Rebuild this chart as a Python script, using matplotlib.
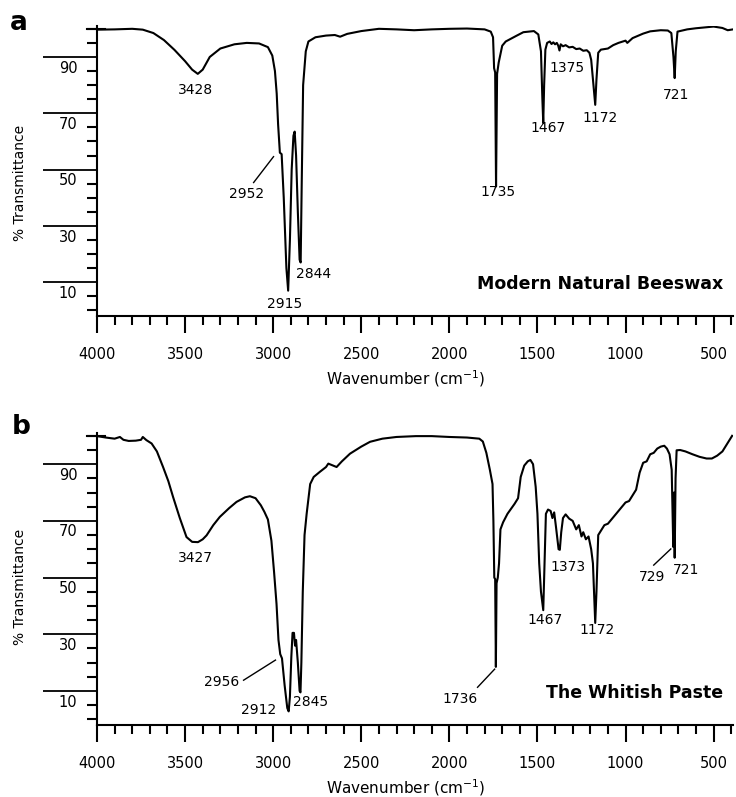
import matplotlib
matplotlib.use("Agg")
import matplotlib.pyplot as plt
from matplotlib.ticker import MultipleLocator, FixedLocator
from matplotlib.transforms import offset_copy

# ---- panel a: modern natural beeswax (wavenumber, % transmittance) ----
wn_a = [4000, 3900, 3800, 3740, 3680, 3620, 3560, 3500, 3460, 3428, 3400, 3360,
        3300, 3220, 3150, 3080, 3030, 3005, 2990, 2980, 2972, 2962, 2952, 2940,
        2925, 2915, 2905, 2895, 2885, 2878, 2870, 2860, 2850, 2844, 2838, 2830,
        2815, 2800, 2760, 2700, 2650, 2620, 2580, 2500, 2400, 2300, 2200, 2100,
        2000, 1900, 1800, 1765, 1752, 1746, 1740, 1735, 1729, 1720, 1700, 1680,
        1650, 1620, 1580, 1520, 1495, 1480, 1472, 1467, 1462, 1455, 1445, 1430,
        1420, 1410, 1400, 1390, 1382, 1375, 1368, 1355, 1340, 1320, 1300, 1280,
        1260, 1240, 1220, 1205, 1195, 1182, 1172, 1165, 1155, 1140, 1100, 1070,
        1040, 1000, 990, 960, 930, 900, 860, 800, 760, 740, 728, 721, 715, 705,
        650, 600, 550, 500, 450, 420, 390]
tr_a = [99.7, 99.8, 100.0, 99.7, 98.5, 96.0, 92.5, 88.5, 85.5, 84.0, 85.5, 90.0,
        93.0, 94.5, 95.0, 94.8, 93.5, 90.5, 85.0, 77.0, 66.0, 56.0, 55.5, 40.0,
        15.0, 7.0, 25.0, 50.0, 62.0, 63.5, 55.0, 35.0, 18.0, 17.0, 45.0, 80.0,
        92.0, 95.5, 97.0, 97.6, 97.8, 97.2, 98.2, 99.2, 100.0, 99.8, 99.5, 99.8,
        100.0, 100.1, 99.8, 99.0, 97.0, 86.0, 84.5, 44.0, 84.0, 88.0, 94.0, 95.5,
        96.5, 97.5, 98.8, 99.2, 98.0, 92.0, 75.0, 66.5, 80.0, 92.6, 95.0, 95.5,
        94.6, 95.2, 94.5, 95.0, 94.0, 92.3, 94.5, 93.8, 94.2, 93.4, 93.6, 92.8,
        93.0, 92.2, 92.4, 91.5, 89.0, 80.0, 73.0, 82.0, 91.5, 92.6, 93.0, 94.2,
        95.0, 95.8, 95.0, 96.7, 97.5, 98.3, 99.1, 99.5, 99.4, 98.5, 90.0, 82.5,
        92.0, 99.0, 99.8, 100.2, 100.5, 100.8, 100.3, 99.5, 99.8]

# ---- panel b: the whitish paste ----
wn_b = [4000, 3950, 3900, 3870, 3850, 3820, 3780, 3750, 3740, 3720, 3690, 3660,
        3625, 3595, 3568, 3530, 3492, 3460, 3427, 3400, 3378, 3340, 3303, 3250,
        3208, 3160, 3132, 3100, 3070, 3050, 3030, 3010, 2995, 2981, 2970, 2960,
        2950, 2935, 2920, 2912, 2905, 2897, 2890, 2882, 2876, 2870, 2860, 2850,
        2845, 2840, 2832, 2822, 2810, 2790, 2770, 2735, 2700, 2687, 2660, 2640,
        2610, 2564, 2500, 2450, 2380, 2300, 2190, 2100, 2000, 1900, 1830, 1810,
        1790, 1770, 1755, 1750, 1745, 1740, 1736, 1732, 1725, 1718, 1710, 1695,
        1670, 1630, 1610, 1595, 1575, 1555, 1540, 1525, 1510, 1500, 1490, 1480,
        1467, 1460, 1452, 1440, 1425, 1415, 1405, 1395, 1380, 1373, 1365, 1355,
        1340, 1320, 1300, 1280, 1265, 1250, 1240, 1225, 1210, 1195, 1185, 1172,
        1165, 1155, 1140, 1120, 1100, 1080, 1060, 1040, 1020, 1000, 980, 960,
        940, 920, 900, 880, 860, 840, 820, 800, 780, 765, 750, 738, 729, 725,
        721, 716, 710, 690, 660, 620, 580, 540, 510, 480, 450, 420, 395]
tr_b = [99.9, 99.4, 99.0, 99.6, 98.6, 98.2, 98.3, 98.6, 99.6, 98.5, 97.3, 94.5,
        89.0, 84.0, 78.4, 71.0, 64.3, 62.6, 62.5, 63.5, 64.9, 68.5, 71.4, 74.5,
        76.7, 78.3, 78.7, 78.0, 75.5, 73.2, 70.5, 63.0, 52.0, 40.7, 28.0, 23.0,
        21.5, 12.0, 4.0, 2.8, 8.0, 22.0, 30.5, 30.5, 26.0, 28.0, 20.0, 10.0,
        9.5, 20.0, 45.0, 65.0, 72.5, 83.0, 85.5, 87.3, 89.0, 90.2, 89.5, 89.0,
        91.0, 93.7, 96.2, 97.9, 99.0, 99.6, 99.9, 99.9, 99.6, 99.4, 99.0, 98.0,
        94.0, 88.0, 83.0, 70.0, 50.0, 49.5, 18.5, 48.0, 50.0, 55.0, 67.0, 69.5,
        72.5, 76.0, 78.0, 85.5, 89.5, 91.0, 91.5, 90.0, 82.0, 72.5, 55.0, 45.0,
        38.5, 55.0, 72.5, 74.0, 73.5, 71.0, 73.0, 68.0, 60.0, 59.8, 66.0, 71.0,
        72.3, 70.8, 70.0, 67.0, 68.5, 64.5, 66.0, 63.5, 64.5, 60.0, 55.0, 34.0,
        45.0, 65.0, 66.5, 68.5, 69.0, 70.5, 72.0, 73.5, 75.0, 76.5, 77.0, 79.0,
        81.0, 87.0, 90.5, 91.0, 93.5, 94.0, 95.5, 96.2, 96.5, 95.5, 93.5, 88.0,
        60.8, 80.0, 57.0, 85.0, 94.9, 95.0, 94.5, 93.5, 92.6, 92.0, 92.0, 93.0,
        94.5, 97.5, 100.0]

# peak labels: (text, x, y) centre of label; leaders: (x0, y0, x1, y1)
labels_a = [("3428", 3441, 78.4), ("2952", 3152, 41.2), ("2915", 2936, 2.2),
            ("2844", 2771, 12.9), ("1735", 1726, 41.9), ("1467", 1442, 64.9),
            ("1375", 1334, 86.2), ("1172", 1147, 68.4), ("721", 715, 76.6)]
leaders_a = [(3111, 45.4, 2998, 54.6)]
labels_b = [("3427", 3441, 56.9), ("2956", 3294, 13.1), ("2912", 3084, 3.2),
            ("2845", 2788, 6.0), ("1736", 1941, 7.1), ("1467", 1459, 35.0),
            ("1373", 1328, 53.7), ("1172", 1163, 31.5), ("729", 851, 50.2),
            ("721", 657, 52.7)]
leaders_b = [(3168, 13.8, 2987, 20.9), (1840, 11.3, 1743, 17.7),
             (840, 54.4, 743, 60.1)]

y_major = [10, 30, 50, 70, 90]
x_major = [4000, 3500, 3000, 2500, 2000, 1500, 1000, 500]


def draw_panel(ax, wn, tr, labels, leaders, title):
    ax.plot(wn, tr, color='k', lw=1.5)
    ax.set_xlim(4000, 390)
    ax.set_ylim(-2, 101)
    for s in ['top', 'right']:
        ax.spines[s].set_visible(False)
    for s in ['left', 'bottom']:
        ax.spines[s].set_linewidth(1.5)

    ax.xaxis.set_major_locator(FixedLocator(x_major))
    ax.xaxis.set_minor_locator(MultipleLocator(100))
    ax.tick_params(axis='x', which='major', direction='out', length=12,
                   width=1.5, pad=10, labelsize=10.5)
    ax.tick_params(axis='x', which='minor', direction='out', length=6.5,
                   width=1.5)

    ax.yaxis.set_major_locator(FixedLocator(y_major))
    ax.yaxis.set_minor_locator(MultipleLocator(5))
    ax.tick_params(axis='y', which='major', direction='out', length=39,
                   width=1.3, labelleft=False)
    ax.tick_params(axis='y', which='minor', direction='out', length=7,
                   width=1.5)
    # y labels sit just below their long ticks
    tr_lab = offset_copy(ax.get_yaxis_transform(), fig=ax.figure,
                         x=-14, y=-8, units='points')
    for v in y_major:
        ax.text(0, v, str(v), transform=tr_lab, ha='right', va='center',
                fontsize=10.5)
    # little cross at the top of the y axis
    ax.plot([-0.016, 0.012], [100, 100], transform=ax.get_yaxis_transform(),
            color='k', lw=1.5, clip_on=False)

    for txt, x, y in labels:
        ax.text(x, y, txt, ha='center', va='center', fontsize=10)
    for x0, y0, x1, y1 in leaders:
        ax.plot([x0, x1], [y0, y1], color='k', lw=1.0)

    ax.text(0.985, 0.11, title, transform=ax.transAxes, ha='right',
            va='center', fontsize=12.5, fontweight='bold')
    ax.set_xlabel('Wavenumber (cm$^{-1}$)', fontsize=11)
    ax.xaxis.set_label_coords(0.485, -0.18)


fig = plt.figure(figsize=(7.36, 7.97), dpi=100)
ax_a = fig.add_axes([97 / 736, 1 - 316 / 797, 636 / 736, 290 / 797])
ax_b = fig.add_axes([97 / 736, 1 - 725 / 797, 636 / 736, 292 / 797])

draw_panel(ax_a, wn_a, tr_a, labels_a, leaders_a, 'Modern Natural Beeswax')
draw_panel(ax_b, wn_b, tr_b, labels_b, leaders_b, 'The Whitish Paste')

fig.text(10 / 736, 1 - 30 / 797, 'a', fontsize=19, fontweight='bold',
         ha='left', va='baseline')
fig.text(12 / 736, 1 - 434 / 797, 'b', fontsize=19, fontweight='bold',
         ha='left', va='baseline')
fig.text(20 / 736, 1 - 183 / 797, '% Transmittance', rotation=90,
         ha='center', va='center', fontsize=10)
fig.text(20 / 736, 1 - 587 / 797, '% Transmittance', rotation=90,
         ha='center', va='center', fontsize=10)

fig.savefig('out.png', dpi=100)
